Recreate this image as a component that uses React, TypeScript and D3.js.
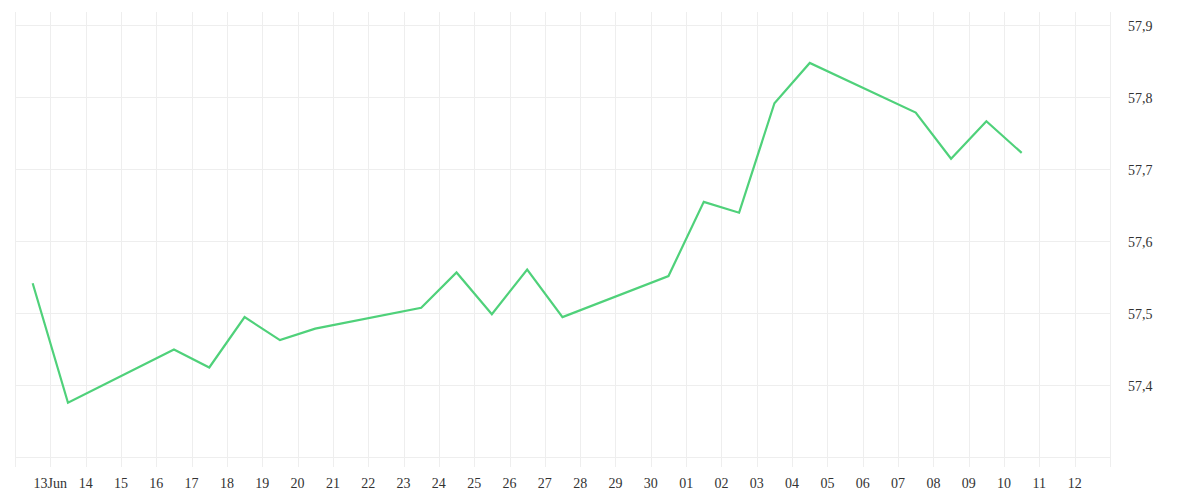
import React from 'react';
import * as d3 from 'd3';

// Trading days (noon) and closing values
const dates = [
    '2025-06-12', '2025-06-13', '2025-06-16', '2025-06-17', '2025-06-18',
    '2025-06-19', '2025-06-20', '2025-06-23', '2025-06-24', '2025-06-25',
    '2025-06-26', '2025-06-27', '2025-06-30', '2025-07-01', '2025-07-02',
    '2025-07-03', '2025-07-04', '2025-07-07', '2025-07-08', '2025-07-09',
    '2025-07-10'
];
const values = [
    57.542, 57.376, 57.450, 57.425, 57.495,
    57.463, 57.479, 57.508, 57.557, 57.499,
    57.561, 57.495, 57.552, 57.655, 57.640,
    57.792, 57.848, 57.779, 57.715, 57.767,
    57.723
];
const yTicks = [57.3, 57.4, 57.5, 57.6, 57.7, 57.8, 57.9];
const yLabels = ['', '57,4', '57,5', '57,6', '57,7', '57,8', '57,9'];

const WIDTH = 1200;
const HEIGHT = 500;
const FONT = '"Liberation Serif", serif';

const parse = (s: string) => {
    const [y, m, d] = s.split('-').map(Number);
    return new Date(y, m - 1, d, 12);
};

export default function App() {
    const x = d3.scaleTime()
        .domain([new Date(2025, 5, 12), new Date(2025, 6, 13)])
        .range([15, 1110]);
    const y = d3.scaleLinear()
        .domain([57.3, 57.9])
        .range([457.5, 25.5]);

    const days = d3.timeDay.range(new Date(2025, 5, 12), new Date(2025, 6, 14));
    const points: [Date, number][] = dates.map((d, i) => [parse(d), values[i]]);
    const line = d3.line<[Date, number]>()
        .x(d => x(d[0]))
        .y(d => y(d[1]));

    const fmt = (d: Date) => {
        if (d.getMonth() === 5 && d.getDate() === 13) return '13Jun';
        return d3.timeFormat('%d')(d);
    };

    return (
        <svg width={WIDTH} height={HEIGHT}
            style={{ position: 'absolute', left: 0, top: 0, background: '#fff' }}>
            {/* grid */}
            <g stroke="#eeeeee" strokeWidth={1} shapeRendering="crispEdges">
                {days.map((d, i) => (
                    <line key={'v' + i} x1={Math.round(x(d)) + 0.5} x2={Math.round(x(d)) + 0.5}
                        y1={12} y2={467} />
                ))}
                {yTicks.map((t, i) => (
                    <line key={'h' + i} x1={15} x2={1110} y1={y(t)} y2={y(t)} />
                ))}
            </g>
            {/* x labels */}
            <g fontFamily={FONT} fontSize={14} fill="#333" textAnchor="middle">
                {days.slice(1, -1).map((d, i) => (
                    <text key={i} x={x(d)} y={488}>{fmt(d)}</text>
                ))}
            </g>
            {/* y labels */}
            <g fontFamily={FONT} fontSize={14} fill="#333">
                {yTicks.map((t, i) => (
                    <text key={i} x={1128} y={y(t) + 5}>{yLabels[i]}</text>
                ))}
            </g>
            <path d={line(points) || ''} fill="none" stroke="#4fd17a"
                strokeWidth={2.2} strokeLinejoin="miter" />
        </svg>
    );
}
